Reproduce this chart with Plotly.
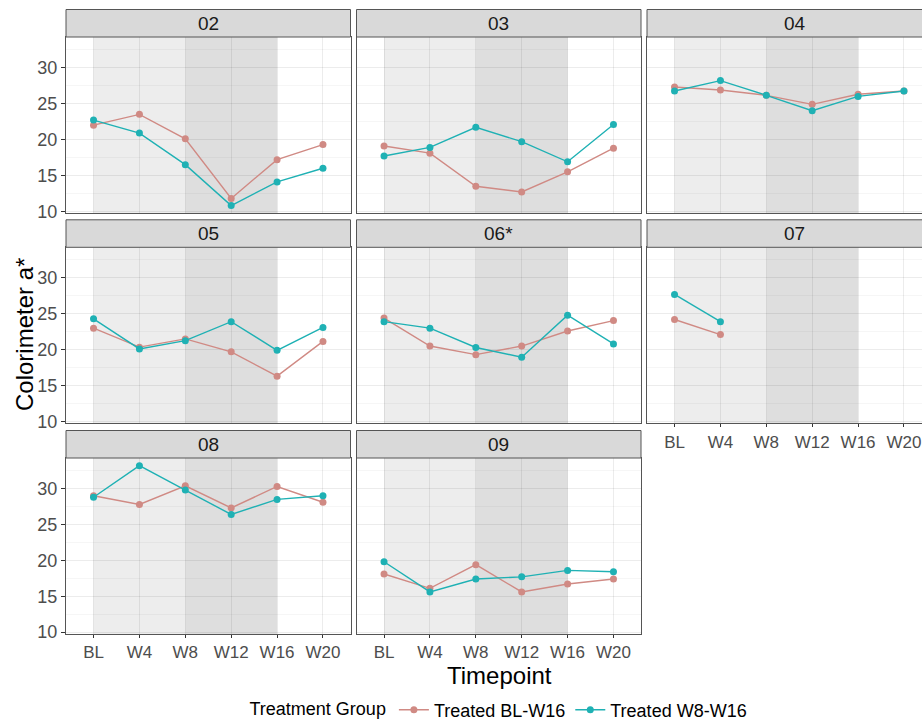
import plotly.graph_objects as go

timepoints = ["BL", "W4", "W8", "W12", "W16", "W20"]
panels = ["02", "03", "04", "05", "06*", "07", "08", "09"]
group_names = ["Treated BL-W16", "Treated W8-W16"]

bl_w16 = {
    "02": [22.0, 23.5, 20.1, 11.8, 17.2, 19.3],
    "03": [19.1, 18.1, 13.5, 12.7, 15.5, 18.8],
    "04": [27.3, 26.9, 26.15, 24.9, 26.3, 26.75],
    "05": [23.0, 20.35, 21.5, 19.7, 16.3, 21.15],
    "06*": [24.4, 20.5, 19.3, 20.5, 22.6, 24.05],
    "07": [24.2, 22.1, None, None, None, None],
    "08": [29.0, 27.8, 30.4, 27.3, 30.3, 28.1],
    "09": [18.1, 16.1, 19.4, 15.6, 16.7, 17.4],
}
w8_w16 = {
    "02": [22.7, 20.9, 16.5, 10.8, 14.1, 16.0],
    "03": [17.7, 18.9, 21.7, 19.7, 16.9, 22.1],
    "04": [26.75, 28.2, 26.15, 24.0, 26.0, 26.75],
    "05": [24.3, 20.1, 21.25, 23.9, 19.9, 23.1],
    "06*": [23.9, 23.0, 20.3, 18.95, 24.8, 20.8],
    "07": [27.7, 23.9, None, None, None, None],
    "08": [28.8, 33.2, 29.8, 26.4, 28.5, 29.0],
    "09": [19.8, 15.6, 17.4, 17.7, 18.6, 18.4],
}

W, H = 922, 723
COLORS = ["#D08A84", "#1FB1B4"]
col_px = [(66, 350.5), (356.5, 641), (647, 922)]
row_px = [(37, 213.3), (247.3, 423.3), (458, 634)]
strip_h = 27.5
pos = [(0, 0), (0, 1), (0, 2), (1, 0), (1, 1), (1, 2), (2, 0), (2, 1)]
xidx = list(range(1, len(timepoints) + 1))
px_per_unit = (col_px[0][1] - col_px[0][0]) / 6.2

fig = go.Figure()
layout = {}
shapes = []
annotations = []
TICKFONT = dict(family="Liberation Sans", size=17, color="#4D4D4D")
GRID = "rgba(0,0,0,0.075)"
MINOR = "rgba(0,0,0,0.035)"

for i, p in enumerate(panels):
    r, c = pos[i]
    n = i + 1
    xa = "x" if n == 1 else f"x{n}"
    ya = "y" if n == 1 else f"y{n}"
    x0, x1 = col_px[c]
    y0, y1 = row_px[r]
    xmax = 0.4 + (x1 - x0) / px_per_unit
    show_x = (r == 2) or (r == 1 and c == 2)
    show_y = c == 0
    layout[f"xaxis{'' if n == 1 else n}"] = dict(
        domain=[x0 / W, x1 / W], anchor=ya, range=[0.4, xmax], automargin=False,
        tickvals=xidx, ticktext=timepoints, showticklabels=show_x,
        ticks="outside" if show_x else "", ticklen=3, tickcolor="#333333",
        tickfont=TICKFONT, showgrid=True, gridcolor=GRID, gridwidth=1.2,
        zeroline=False, showline=True, linecolor="#555555", linewidth=1,
        mirror=True, fixedrange=True,
    )
    layout[f"yaxis{'' if n == 1 else n}"] = dict(
        domain=[1 - y1 / H, 1 - y0 / H], anchor=xa, range=[9.73, 34.27], automargin=False,
        tickvals=[10, 15, 20, 25, 30], showticklabels=show_y,
        ticks="outside" if show_y else "", ticklen=4, tickcolor="#333333",
        tickfont=dict(TICKFONT, size=18), showgrid=True, gridcolor=GRID, gridwidth=1.2,
        minor=dict(tickvals=[12.5, 17.5, 22.5, 27.5, 32.5], showgrid=True,
                   gridcolor=MINOR, gridwidth=0.8),
        zeroline=False, showline=True, linecolor="#555555", linewidth=1,
        mirror=(c != 2), fixedrange=True,
    )
    # shaded treatment windows
    shapes.append(dict(type="rect", xref=xa, yref=f"{ya} domain", x0=1, x1=3, y0=0, y1=1,
                       fillcolor="#EDEDED", line=dict(width=0), layer="below"))
    shapes.append(dict(type="rect", xref=xa, yref=f"{ya} domain", x0=3, x1=5, y0=0, y1=1,
                       fillcolor="#DEDEDE", line=dict(width=0), layer="below"))
    # strip
    shapes.append(dict(type="rect", xref="paper", yref="paper",
                       x0=x0 / W, x1=(x1 + (12 if c == 2 else 0)) / W,
                       y0=1 - y0 / H, y1=1 - (y0 - strip_h) / H,
                       fillcolor="#D9D9D9", line=dict(color="#555555", width=1), layer="above"))
    annotations.append(dict(text=p, xref="paper", yref="paper",
                            x=((x0 + x1 + (20 if c == 2 else 0)) / 2) / W,
                            y=1 - (y0 - strip_h / 2) / H, showarrow=False,
                            font=dict(family="Liberation Sans", size=19, color="#1A1A1A"),
                            xanchor="center", yanchor="middle"))
    for g, (data, name) in enumerate(zip([bl_w16, w8_w16], group_names)):
        fig.add_trace(go.Scatter(
            x=xidx, y=data[p], mode="lines+markers", name=name,
            legendgroup=name, showlegend=(i == 0),
            line=dict(color=COLORS[g], width=1.4),
            marker=dict(color=COLORS[g], size=7),
            xaxis=xa, yaxis=ya, connectgaps=False,
        ))

annotations.append(dict(text="Timepoint", xref="paper", yref="paper", x=499 / W, y=1 - 675 / H,
                        showarrow=False, font=dict(family="Liberation Sans", size=24, color="#000000"),
                        xanchor="center", yanchor="middle"))
annotations.append(dict(text="Colorimeter a*", xref="paper", yref="paper", x=24 / W, y=1 - 335 / H,
                        showarrow=False, textangle=-90,
                        font=dict(family="Liberation Sans", size=24, color="#000000"),
                        xanchor="center", yanchor="middle"))

fig.update_layout(
    **layout,
    width=W, height=H,
    margin=dict(l=0, r=0, t=0, b=0, autoexpand=False),
    paper_bgcolor="white", plot_bgcolor="white",
    shapes=shapes, annotations=annotations,
    legend=dict(orientation="h", x=500 / W, y=1 - 710 / H, xanchor="center", yanchor="middle",
                title=dict(text="Treatment Group", side="left",
                           font=dict(family="Liberation Sans", size=18, color="#000000")),
                font=dict(family="Liberation Sans", size=18, color="#000000"),
                itemwidth=30, tracegroupgap=0),
    showlegend=True,
)

fig.write_html("out.html", config={"displayModeBar": False},
               post_script="document.body.style.margin='0';document.body.style.overflow='hidden';")
